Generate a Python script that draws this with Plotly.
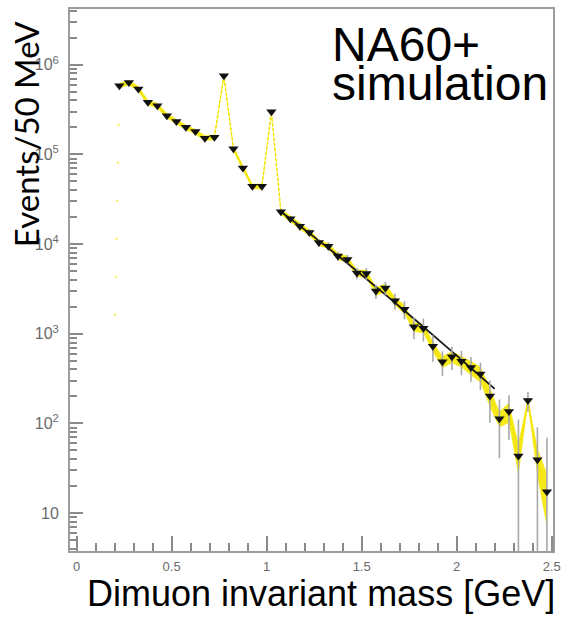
import plotly.graph_objects as go

# ---- data ----
mass = [0.225, 0.275, 0.325, 0.375, 0.425, 0.475, 0.525, 0.575, 0.625, 0.675,
        0.725, 0.775, 0.825, 0.875, 0.925, 0.975, 1.025, 1.075, 1.125, 1.175,
        1.225, 1.275, 1.325, 1.375, 1.425, 1.475, 1.525, 1.575, 1.625, 1.675,
        1.725, 1.775, 1.825, 1.875, 1.925, 1.975, 2.025, 2.075, 2.125, 2.175,
        2.225, 2.275, 2.325, 2.375, 2.425, 2.475]
events = [584000, 636000, 537000, 381000, 350000, 271000, 233000, 201000, 180000, 152000,
          156000, 755000, 116000, 70400, 44100, 44100, 300000, 23000, 19200, 15800,
          13500, 10400, 9500, 7360, 6760, 4760, 4700, 3000, 3250, 2340,
          1880, 1200, 1150, 726, 489, 555, 495, 422, 357, 202,
          113, 136, 43.5, 180, 39.5, 17.3]
stat_err = [8000, 8000, 7000, 6000, 6000, 5000, 5000, 4500, 4000, 4000,
            4000, 9000, 3500, 2700, 2100, 2100, 5500, 1500, 1400, 1300,
            1200, 1000, 1000, 850, 800, 700, 700, 550, 550, 480,
            430, 330, 330, 240, 150, 160, 150, 130, 120, 100,
            72, 70, 67, 46, 51, 52]
band_frac = [0.07, 0.07, 0.07, 0.07, 0.07, 0.07, 0.07, 0.07, 0.07, 0.07,
             0.07, 0.07, 0.07, 0.07, 0.07, 0.07, 0.07, 0.08, 0.08, 0.08,
             0.08, 0.08, 0.08, 0.09, 0.09, 0.09, 0.10, 0.11, 0.11, 0.11,
             0.12, 0.12, 0.12, 0.14, 0.15, 0.15, 0.15, 0.18, 0.20, 0.25,
             0.20, 0.25, 0.40, 0.10, 0.35, 0.60]

fit_mass = [1.075, 1.2, 1.35, 1.5, 1.65, 1.8, 1.95, 2.1, 2.2]
fit_events = [23000, 14520, 8185, 4527, 2467, 1328, 707, 373, 243]

lead_mass = [0.225, 0.2]
lead_events = [584000, 1000]

xtick_vals = [0, 0.5, 1, 1.5, 2, 2.5]
xtick_text = ["0", "0.5", "1", "1.5", "2", "2.5"]
ytick_vals = [10, 100, 1e3, 1e4, 1e5, 1e6]
ytick_text = ["10", "10<sup>2</sup>", "10<sup>3</sup>", "10<sup>4</sup>",
              "10<sup>5</sup>", "10<sup>6</sup>"]

Y_LO, Y_HI = 0.578, 6.622
y_bottom = 10 ** Y_LO

# ---- derived arrays ----
band_hi = [v * (1 + f) for v, f in zip(events, band_frac)]
band_lo = [v * (1 - f) for v, f in zip(events, band_frac)]
err_minus = [e if v - e > y_bottom else v - y_bottom for v, e in zip(events, stat_err)]
minor_y = [k * 10 ** d for d in range(0, 7) for k in range(2, 10)]

fig = go.Figure()

# faint dotted lead-in going down from the first point
fig.add_trace(go.Scatter(x=lead_mass, y=lead_events, mode="lines",
                         line=dict(color="rgba(245,230,0,0.7)", width=2, dash="2px,36px"),
                         hoverinfo="skip", showlegend=False))

# yellow band
fig.add_trace(go.Scatter(x=mass + mass[::-1], y=band_hi + band_lo[::-1],
                         fill="toself", fillcolor="#f6ea1c", mode="lines",
                         line=dict(color="rgba(0,0,0,0)", width=0),
                         hoverinfo="skip", showlegend=False))

# dashed yellow line through points
fig.add_trace(go.Scatter(x=mass, y=events, mode="lines",
                         line=dict(color="#f2e200", width=1.5, dash="3px,2px"),
                         hoverinfo="skip", showlegend=False))

# fit line
fig.add_trace(go.Scatter(x=fit_mass, y=fit_events, mode="lines",
                         line=dict(color="#1a1a1a", width=1.8, shape="spline"),
                         showlegend=False))

# data points with error bars
fig.add_trace(go.Scatter(x=mass, y=events, mode="markers",
                         marker=dict(symbol="triangle-down", size=9, color="#111111"),
                         error_y=dict(type="data", array=stat_err, arrayminus=err_minus,
                                      color="#a8a8a8", thickness=1.6, width=0),
                         showlegend=False))

axis_color = "#9c9c9c"
fig.update_xaxes(range=[-0.035, 2.507], showgrid=False, zeroline=False,
                 showline=True, linecolor=axis_color, linewidth=2, mirror=True,
                 ticks="inside", ticklen=15, tickwidth=1.5, tickcolor="#8a8a8a",
                 tickmode="array", tickvals=xtick_vals, ticktext=xtick_text,
                 tickfont=dict(family="Liberation Sans, Arial", size=13, color="#6a6a6a"),
                 ticklabelstandoff=2,
                 minor=dict(ticks="inside", ticklen=8, tickwidth=1.5, tickcolor="#8a8a8a",
                            dtick=0.1, tick0=0))
fig.update_yaxes(type="log", range=[Y_LO, Y_HI], showgrid=False, zeroline=False,
                 showline=True, linecolor=axis_color, linewidth=2, mirror=True,
                 ticks="inside", ticklen=13, tickwidth=1.5, tickcolor="#8a8a8a",
                 tickmode="array", tickvals=ytick_vals, ticktext=ytick_text,
                 tickfont=dict(family="Liberation Sans, Arial", size=16, color="#6a6a6a"),
                 ticklabelstandoff=6,
                 minor=dict(ticks="inside", ticklen=7, tickwidth=1.5, tickcolor="#8a8a8a",
                            tickmode="array", tickvals=minor_y))

fig.add_annotation(text="Dimuon invariant mass [GeV]", xref="paper", yref="paper",
                   x=0.52, y=-0.079, xanchor="center", yanchor="middle", showarrow=False,
                   font=dict(family="Liberation Sans, Arial", size=36, color="black"))
fig.add_annotation(text="Events/50 MeV", xref="paper", yref="paper",
                   x=-0.0922, y=0.770, xanchor="center", yanchor="middle", showarrow=False,
                   textangle=-90,
                   font=dict(family="Lato, Liberation Sans", size=33, color="black"))
fig.add_annotation(text="NA60+", xref="paper", yref="paper",
                   x=0.539, y=0.934, xanchor="left", yanchor="middle", showarrow=False,
                   font=dict(family="Liberation Sans, Arial", size=48, color="black"))
fig.add_annotation(text="simulation", xref="paper", yref="paper",
                   x=0.539, y=0.862, xanchor="left", yanchor="middle", showarrow=False,
                   font=dict(family="Liberation Sans, Arial", size=48, color="black"))

fig.update_layout(width=568, height=624, paper_bgcolor="white", plot_bgcolor="white",
                  margin=dict(l=70, r=10, t=7, b=73), showlegend=False)

fig.write_html("out.html")
